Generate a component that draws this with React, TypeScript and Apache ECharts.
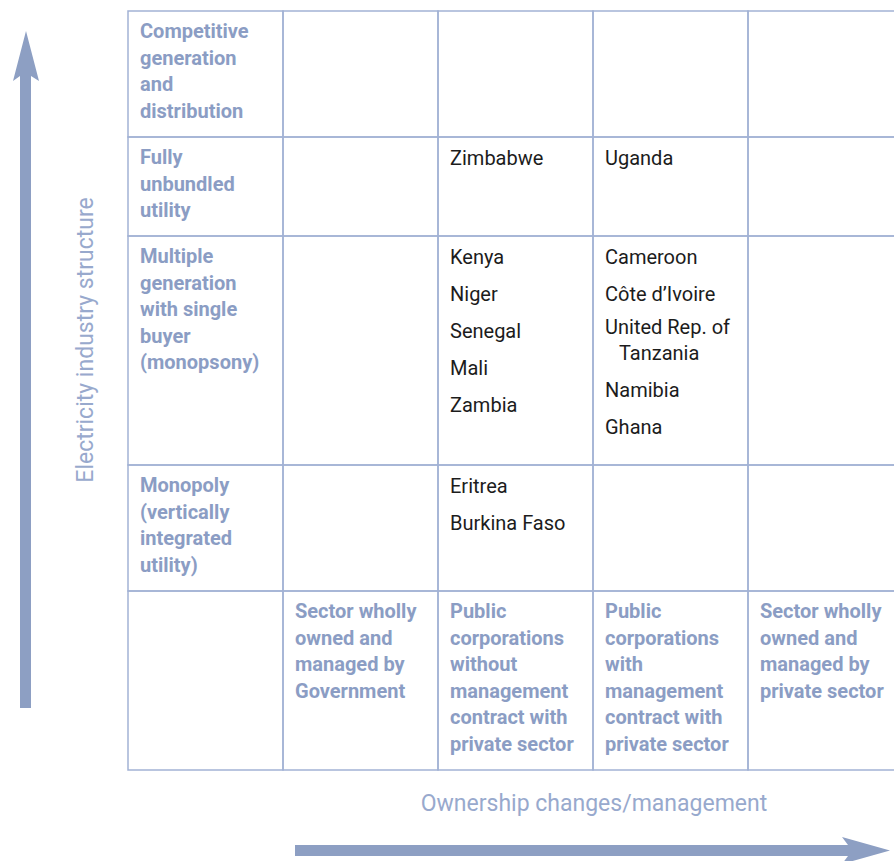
import React, { useEffect, useRef } from "react";
import * as echarts from "echarts";

// ---- data ----
const structureLevels = [
  "Competitive\ngeneration\nand\ndistribution",
  "Fully\nunbundled\nutility",
  "Multiple\ngeneration\nwith single\nbuyer\n(monopsony)",
  "Monopoly\n(vertically\nintegrated\nutility)",
];
const ownershipTypes = [
  "Sector wholly\nowned and\nmanaged by\nGovernment",
  "Public\ncorporations\nwithout\nmanagement\ncontract with\nprivate sector",
  "Public\ncorporations\nwith\nmanagement\ncontract with\nprivate sector",
  "Sector wholly\nowned and\nmanaged by\nprivate sector",
];
const unbundledWithoutContract = ["Zimbabwe"];
const unbundledWithContract = ["Uganda"];
const singleBuyerWithoutContract = ["Kenya", "Niger", "Senegal", "Mali", "Zambia"];
const singleBuyerWithContract = [
  "Cameroon",
  "Côte d’Ivoire",
  "United Rep. of\nTanzania",
  "Namibia",
  "Ghana",
];
const monopolyWithoutContract = ["Eritrea", "Burkina Faso"];
const yAxisTitle = "Electricity industry structure";
const xAxisTitle = "Ownership changes/management";

// cell lookup: [structure row index, ownership index, countries]
const countryCells: [number, number, string[]][] = [
  [1, 1, unbundledWithoutContract],
  [1, 2, unbundledWithContract],
  [2, 1, singleBuyerWithoutContract],
  [2, 2, singleBuyerWithContract],
  [3, 1, monopolyWithoutContract],
];

// ---- layout ----
const rowHeights = [126, 99, 229, 126, 179];
const rowEdges = rowHeights.reduce((acc, h) => [...acc, acc[acc.length - 1] + h], [0]);
const GRID_LEFT = 128;
const COL_W = 155;
const WIDTH = 894;
const LINE = "#a2b2d5";
const HEAD = "#8b9dc4";
const ARROW = "#8d9fc3";
const LABEL = "#98a9cd";
const FONT = "Roboto, 'Open Sans', sans-serif";

export default function App() {
  const ref = useRef<HTMLDivElement>(null);
  useEffect(() => {
    if (!ref.current) return;
    const chart = echarts.init(ref.current, null, { renderer: "svg" });
    const nCols = ownershipTypes.length + 1;
    const nRows = structureLevels.length + 1;
    const cells: number[][] = [];
    for (let r = 0; r < nRows; r++) for (let c = 0; c < nCols; c++) cells.push([c, r]);

    const renderItem = (params: any, api: any) => {
      const col = api.value(0);
      const row = api.value(1);
      const tl = api.coord([col, rowEdges[row]]);
      const br = api.coord([col + 1, rowEdges[row + 1]]);
      const children: any[] = [
        {
          type: "rect",
          shape: { x: tl[0], y: tl[1], width: br[0] - tl[0], height: br[1] - tl[1] },
          style: { fill: "none", stroke: LINE, lineWidth: 1.5 },
        },
      ];
      let header: string | null = null;
      if (col === 0 && row < structureLevels.length) header = structureLevels[row];
      if (row === structureLevels.length && col > 0) header = ownershipTypes[col - 1];
      if (header) {
        children.push({
          type: "text",
          style: {
            text: header,
            x: tl[0] + 12,
            y: tl[1] + 7,
            fill: HEAD,
            fontSize: 20,
            fontWeight: "bold",
            fontFamily: FONT,
            lineHeight: 26.5,
            textAlign: "left",
            textVerticalAlign: "top",
          },
        });
      }
      const cc = countryCells.find((d) => d[0] === row && d[1] === col - 1);
      if (cc) {
        let y = tl[1] + 20.5;
        cc[2].forEach((name, i) => {
          const lines = name.split("\n");
          if (i > 0) y += lines.length > 1 ? 33 : 37;
          lines.forEach((ln, j) => {
            if (j > 0) y += 26.5;
            children.push({
              type: "text",
              style: {
                text: ln,
                x: tl[0] + 12 + (j > 0 ? 14 : 0),
                y,
                fill: "#1c1c1c",
                fontSize: 20,
                fontFamily: FONT,
                textAlign: "left",
                textVerticalAlign: "middle",
              },
            });
          });
        });
      }
      return { type: "group", children };
    };

    chart.setOption({
      animation: false,
      grid: { left: GRID_LEFT, top: 11, right: 0, height: rowEdges[rowEdges.length - 1] },
      xAxis: {
        type: "value",
        min: 0,
        max: (WIDTH - GRID_LEFT) / COL_W,
        show: false,
      },
      yAxis: {
        type: "value",
        inverse: true,
        min: 0,
        max: rowEdges[rowEdges.length - 1],
        show: false,
      },
      graphic: [
        {
          type: "polygon",
          shape: {
            points: [
              [26, 31],
              [39, 81],
              [31, 76],
              [31, 708],
              [20, 708],
              [20, 76],
              [13, 81],
            ],
          },
          style: { fill: ARROW },
        },
        {
          type: "polygon",
          shape: {
            points: [
              [295, 845],
              [848, 845],
              [842, 837],
              [890, 850.5],
              [842, 864],
              [848, 856],
              [295, 856],
            ],
          },
          style: { fill: ARROW },
        },
        {
          type: "text",
          x: 85,
          y: 340,
          rotation: Math.PI / 2,
          style: {
            text: yAxisTitle,
            fill: LABEL,
            fontSize: 23,
            fontFamily: FONT,
            textAlign: "center",
            textVerticalAlign: "middle",
          },
        },
        {
          type: "text",
          x: 594,
          y: 803,
          style: {
            text: xAxisTitle,
            fill: LABEL,
            fontSize: 23,
            fontFamily: FONT,
            textAlign: "center",
            textVerticalAlign: "middle",
          },
        },
      ],
      series: [
        {
          type: "custom",
          coordinateSystem: "cartesian2d",
          clip: false,
          silent: true,
          renderItem,
          data: cells,
        },
      ],
    });
    return () => chart.dispose();
  }, []);
  return (
    <div
      ref={ref}
      style={{ position: "absolute", left: 0, top: 0, width: WIDTH, height: 861 }}
    />
  );
}
